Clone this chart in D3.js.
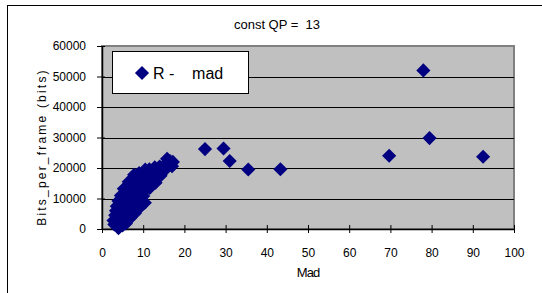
<!DOCTYPE html>
<html>
<head>
<meta charset="utf-8">
<script src="https://cdn.jsdelivr.net/npm/d3@7"></script>
<style>
  html, body { margin: 0; padding: 0; background: #fff; }
  svg { display: block; font-family: Arial, "Liberation Sans", sans-serif; }
</style>
</head>
<body>
<div id="chart"></div>
<script>
// Scatter of bits per frame against MAD, constant QP = 13.
var title = "const QP =  13";
var seriesName = "R -    mad";
var xLabel = "Mad";
var yLabel = "Bits_per_frame (bits)";
var xTicks = [0, 10, 20, 30, 40, 50, 60, 70, 80, 90, 100];
var yTicks = [0, 10000, 20000, 30000, 40000, 50000, 60000];

// dense cluster at low mad: [mad, bits]
var clusterPoints = [
    [4.0, 300], [4.3, 800],
    [3.0, 1500], [4.0, 1500], [5.0, 1200], [5.8, 1800],
    [2.8, 2800], [3.8, 3000], [4.8, 2800], [5.8, 3200], [6.8, 3500],
    [3.2, 4500], [4.2, 4500], [5.2, 4300], [6.2, 4700], [7.3, 4800], [8.0, 5200],
    [3.4, 6000], [4.4, 6200], [5.4, 6000], [6.4, 6300], [7.4, 6500], [8.5, 6800], [9.3, 7200],
    [3.6, 7500], [4.6, 7800], [5.6, 7600], [6.6, 7900], [7.6, 8000], [8.6, 8300], [9.8, 8700], [10.4, 8600],
    [4.0, 9200], [5.0, 9500], [6.0, 9600], [7.0, 9800], [8.0, 10000], [9.0, 10300], [10.0, 10800],
    [4.6, 11000], [5.6, 11500], [6.6, 11800], [7.6, 12000], [8.6, 12300], [9.6, 12600], [10.6, 13000], [11.6, 13500],
    [5.3, 13200], [6.3, 13600], [7.3, 14000], [8.3, 14200], [9.3, 14500], [10.5, 14800], [12.0, 14500], [13.0, 15200],
    [6.5, 15500], [7.5, 16000], [8.5, 16500], [9.5, 16800], [11.0, 16500], [12.0, 16200], [13.2, 16800], [14.2, 17500],
    [7.8, 17800], [9.0, 18300], [10.0, 17800], [11.5, 17800], [12.5, 18500], [13.8, 18800], [14.8, 19200], [15.6, 19800],
    [10.5, 19500], [11.5, 19600], [12.8, 20200], [14.0, 20500], [15.2, 21000], [16.2, 21000], [17.0, 20600],
    [15.8, 23000], [16.5, 22300], [17.2, 22000]
];

// scattered points further out
var outlierPoints = [
    [25.0, 26200], [29.5, 26400], [31.0, 22300], [35.5, 19500], [43.3, 19600],
    [69.7, 24000], [78.0, 52000], [79.5, 29800], [92.5, 23700]
];

var W = 542, H = 293;
var plot = { left: 102, right: 514, top: 46, bottom: 229 };
var NAVY = "#000080";

var svg = d3.select("#chart").append("svg").attr("width", W).attr("height", H);

// outer chart frame (right and bottom run off the picture)
svg.append("rect").attr("x", 7.5).attr("y", 5.5).attr("width", 600).attr("height", 400)
    .attr("fill", "#fff").attr("stroke", "#000").attr("stroke-width", 1);

var x = d3.scaleLinear().domain([0, 100]).range([plot.left, plot.right]);
var y = d3.scaleLinear().domain([0, 60000]).range([plot.bottom, plot.top]);

// grey plot area
svg.append("rect").attr("x", plot.left).attr("y", plot.top)
    .attr("width", plot.right - plot.left).attr("height", plot.bottom - plot.top)
    .attr("fill", "#c0c0c0").attr("stroke", "#808080").attr("stroke-width", 2);

// horizontal gridlines
svg.append("g").selectAll("line").data(yTicks.filter(function (d) { return d > 0 && d < 60000; }))
    .enter().append("line")
    .attr("x1", plot.left).attr("x2", plot.right)
    .attr("y1", function (d) { return Math.round(y(d)) + 0.5; })
    .attr("y2", function (d) { return Math.round(y(d)) + 0.5; })
    .attr("stroke", "#000").attr("stroke-width", 1);

// axes, ticks cross the axis line
var xAxis = svg.append("g").attr("transform", "translate(0," + plot.bottom + ")")
    .call(d3.axisBottom(x).tickValues(xTicks).tickSizeOuter(0).tickPadding(13));
xAxis.selectAll(".tick line").attr("y1", -4).attr("y2", 4).attr("stroke", "#000");
xAxis.select(".domain").attr("stroke", "#000").attr("stroke-width", 1.5);
xAxis.selectAll("text").style("font-size", "12px").attr("fill", "#000");

var yAxis = svg.append("g").attr("transform", "translate(" + plot.left + ",0)")
    .call(d3.axisLeft(y).tickValues(yTicks).tickFormat(d3.format("d")).tickSizeOuter(0).tickPadding(10));
yAxis.selectAll(".tick line").attr("x1", -5).attr("x2", 3).attr("stroke", "#000");
yAxis.select(".domain").attr("stroke", "#000").attr("stroke-width", 1.5);
yAxis.selectAll("text").style("font-size", "12px").attr("fill", "#000");

// markers: squares turned 45 degrees
var diamond = d3.symbol().type(d3.symbolSquare).size(100);
svg.append("g").selectAll("path").data(clusterPoints.concat(outlierPoints)).enter().append("path")
    .attr("d", diamond)
    .attr("transform", function (d) { return "translate(" + x(d[0]) + "," + y(d[1]) + ") rotate(45)"; })
    .attr("fill", NAVY);

// legend
svg.append("rect").attr("x", 112.5).attr("y", 51.5).attr("width", 136).attr("height", 42)
    .attr("fill", "#fff").attr("stroke", "#000").attr("stroke-width", 1);
svg.append("path").attr("d", diamond).attr("transform", "translate(142,73) rotate(45)").attr("fill", NAVY);
svg.append("text").attr("x", 153).attr("y", 79).style("font-size", "16px").style("white-space", "pre")
    .text(seriesName);

// titles
svg.append("text").attr("x", 277).attr("y", 29).attr("text-anchor", "middle")
    .style("font-size", "13px").style("white-space", "pre").text(title);
svg.append("text").attr("x", 308).attr("y", 277).attr("text-anchor", "middle")
    .style("font-size", "13px").style("letter-spacing", "-1px").text(xLabel);
svg.append("text").attr("transform", "translate(46,147) rotate(-90)").attr("text-anchor", "middle")
    .style("font-size", "12px").style("letter-spacing", "2.2px").text(yLabel);
</script>
</body>
</html>
